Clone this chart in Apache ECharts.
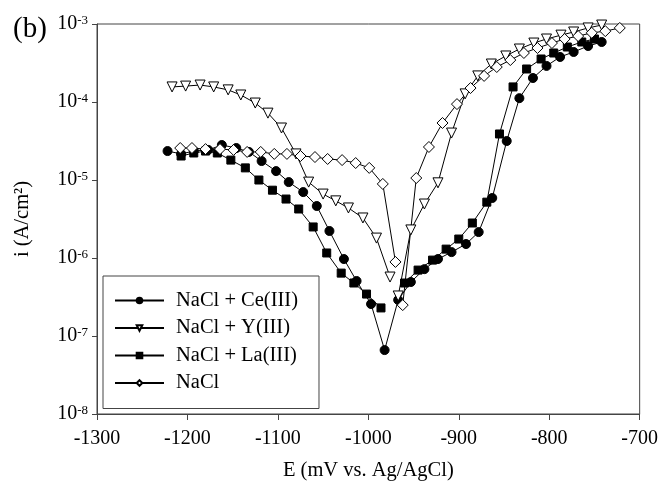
<!DOCTYPE html>
<html>
<head>
<meta charset="utf-8">
<script src="https://cdn.jsdelivr.net/npm/echarts@6/dist/echarts.min.js"></script>
<style>
  html, body { margin: 0; padding: 0; background: #fff; }
  #chart { width: 661px; height: 486px; }
</style>
</head>
<body>
<div id="chart"></div>
<script>
// Potentiodynamic polarisation curves, E in mV vs. Ag/AgCl, i in A/cm²
// Each curve has a cathodic branch (…Cat) and an anodic branch (…An).

// NaCl + Ce(III): one continuous curve through the corrosion potential
const ceE = [-1222, -1207, -1193, -1177, -1162, -1146, -1132, -1118, -1102, -1088, -1072, -1057, -1043, -1027, -1013, -997, -982,
             -967, -953, -938, -923, -908, -892, -878, -863, -847, -833, -818, -803, -788, -773, -757, -742];
const ceI = [2.35e-5, 2.16e-5, 2.35e-5, 2.43e-5, 2.81e-5, 2.57e-5, 2.29e-5, 1.75e-5, 1.30e-5, 9.4e-6, 7.0e-6, 4.64e-6, 2.22e-6, 9.7e-7, 5.07e-7, 2.57e-7, 6.6e-8,
             2.9e-7, 4.92e-7, 7.2e-7, 9.7e-7, 1.19e-6, 1.51e-6, 2.15e-6, 5.88e-6, 3.16e-5, 1.12e-4, 2.03e-4, 2.9e-4, 3.78e-4, 4.38e-4, 5.22e-4, 5.88e-4];

// NaCl + Y(III)
const yCatE = [-1217, -1202, -1186, -1171, -1155, -1141, -1125, -1111, -1096, -1080, -1066, -1050, -1036, -1022, -1006, -991, -976];
const yCatI = [1.56e-4, 1.60e-4, 1.65e-4, 1.56e-4, 1.43e-4, 1.23e-4, 9.7e-5, 7.2e-5, 4.64e-5, 2.16e-5, 9.4e-6, 6.6e-6, 5.4e-6, 4.38e-6, 3.26e-6, 1.80e-6, 5.7e-7];
const yAnE = [-967, -953, -938, -923, -908, -893, -879, -864, -848, -833, -817, -803, -787, -773, -757, -742];
const yAnI = [3.26e-7, 2.29e-6, 4.92e-6, 9.2e-6, 4.0e-5, 1.27e-4, 2.16e-4, 3.07e-4, 3.89e-4, 4.78e-4, 5.7e-4, 6.42e-4, 7.2e-4, 7.9e-4, 8.9e-4, 9.7e-4];

// NaCl + La(III)
const laCatE = [-1207, -1193, -1180, -1167, -1152, -1136, -1121, -1106, -1091, -1077, -1061, -1046, -1030, -1016, -1002, -986];
const laCatI = [2.03e-5, 2.22e-5, 2.35e-5, 2.22e-5, 1.80e-5, 1.43e-5, 1.0e-5, 7.4e-6, 5.7e-6, 4.25e-6, 2.5e-6, 1.16e-6, 6.4e-7, 4.78e-7, 3.45e-7, 2.29e-7];
const laAnE = [-960, -945, -929, -914, -900, -885, -869, -855, -840, -825, -809, -795, -780, -764, -750];
const laAnI = [4.78e-7, 7.0e-7, 9.4e-7, 1.30e-6, 1.75e-6, 2.81e-6, 5.2e-6, 3.89e-5, 1.56e-4, 2.65e-4, 3.56e-4, 4.25e-4, 5.07e-4, 5.88e-4, 6.42e-4];

// NaCl (blank)
const naCatE = [-1208, -1195, -1180, -1164, -1149, -1134, -1119, -1104, -1090, -1075, -1059, -1045, -1029, -1014, -999, -984, -970];
const naCatI = [2.57e-5, 2.57e-5, 2.49e-5, 2.49e-5, 2.43e-5, 2.29e-5, 2.29e-5, 2.16e-5, 2.16e-5, 2.03e-5, 1.97e-5, 1.86e-5, 1.80e-5, 1.65e-5, 1.43e-5, 8.9e-6, 8.9e-7];
const naAnE = [-962, -947, -933, -918, -902, -887, -872, -858, -843, -828, -813, -797, -783, -768, -753, -738, -722];
const naAnI = [2.49e-7, 1.06e-5, 2.65e-5, 5.38e-5, 9.4e-5, 1.51e-4, 2.16e-4, 2.81e-4, 3.45e-4, 4.25e-4, 4.92e-4, 5.7e-4, 6.42e-4, 7.0e-4, 7.7e-4, 8.1e-4, 8.9e-4];

const seriesNames = ['NaCl + Ce(III)', 'NaCl + Y(III)', 'NaCl + La(III)', 'NaCl'];
const xTicks = { min: -1300, max: -700, step: 100 };
const yRange = { min: 1e-8, max: 1e-3 };

function pairs(xs, ys) { return xs.map((x, k) => [x, ys[k]]); }
// a '-' point breaks the line between the two branches
function branches(xa, ya, xb, yb) { return pairs(xa, ya).concat([['-', '-']], pairs(xb, yb)); }

const FONT = '"Liberation Serif", "DejaVu Serif", serif';
const INK = '#000';

function curve(name, data, symbol, size, filled, rotate) {
  return {
    name: name,
    type: 'line',
    data: data,
    symbol: symbol,
    symbolSize: size,
    symbolRotate: rotate || 0,
    showAllSymbol: true,
    connectNulls: false,
    lineStyle: { color: INK, width: 1 },
    itemStyle: { color: filled ? INK : '#fff', borderColor: INK, borderWidth: 1 },
    emphasis: { disabled: true },
    animation: false,
    z: 3
  };
}

const chart = echarts.init(document.getElementById('chart'), null, { renderer: 'canvas' });
chart.setOption({
  backgroundColor: '#fff',
  animation: false,
  title: {
    text: '(b)', left: 8, top: 10,
    textStyle: { fontFamily: FONT, fontSize: 29, fontWeight: 'normal', color: INK }
  },
  grid: { left: 97, top: 24, right: 21, bottom: 72, show: true, borderColor: '#444', borderWidth: 1, backgroundColor: 'transparent' },
  legend: {
    orient: 'vertical',
    left: 103, top: 276,
    padding: [14, 21, 15, 11],
    itemGap: 6.5,
    itemWidth: 49,
    itemHeight: 7,
    borderColor: '#444', borderWidth: 1,
    selectedMode: false,
    data: seriesNames,
    textStyle: { fontFamily: FONT, fontSize: 20.5, color: INK, lineHeight: 20, padding: [0, 0, 0, 7] }
  },
  xAxis: {
    type: 'value',
    min: xTicks.min, max: xTicks.max, interval: xTicks.step,
    name: 'E (mV vs. Ag/AgCl)',
    nameLocation: 'middle', nameGap: 46,
    nameTextStyle: { fontFamily: FONT, fontSize: 20.5, color: INK },
    axisLine: { lineStyle: { color: '#444', width: 1 } },
    axisTick: { show: true, inside: false, length: 6, lineStyle: { color: '#444' } },
    axisLabel: { fontFamily: FONT, fontSize: 20, color: INK, margin: 15, formatter: v => String(v) },
    splitLine: { show: false }
  },
  yAxis: {
    type: 'log', logBase: 10,
    min: yRange.min, max: yRange.max,
    name: 'i (A/cm²)',
    nameLocation: 'middle', nameGap: 64,
    nameTextStyle: { fontFamily: FONT, fontSize: 20.5, color: INK },
    axisLine: { show: true, lineStyle: { color: '#444', width: 1 } },
    axisTick: { show: true, inside: false, length: 5, lineStyle: { color: '#444' } },
    axisLabel: {
      margin: 9,
      fontFamily: FONT, color: INK,
      formatter: v => '{b|10}{s|' + Math.round(Math.log10(v)) + '}',
      rich: {
        b: { fontFamily: FONT, fontSize: 20, color: INK },
        s: { fontFamily: FONT, fontSize: 13, color: INK, verticalAlign: 'top' }
      }
    },
    splitLine: { show: false },
    minorTick: { show: false }
  },
  series: [
    curve(seriesNames[0], pairs(ceE, ceI), 'circle', 9, true),
    curve(seriesNames[1], branches(yCatE, yCatI, yAnE, yAnI), 'triangle', 10, false, 180),
    curve(seriesNames[2], branches(laCatE, laCatI, laAnE, laAnI), 'rect', 8, true),
    curve(seriesNames[3], branches(naCatE, naCatI, naAnE, naAnI), 'diamond', 11, false)
  ]
});
</script>
</body>
</html>
